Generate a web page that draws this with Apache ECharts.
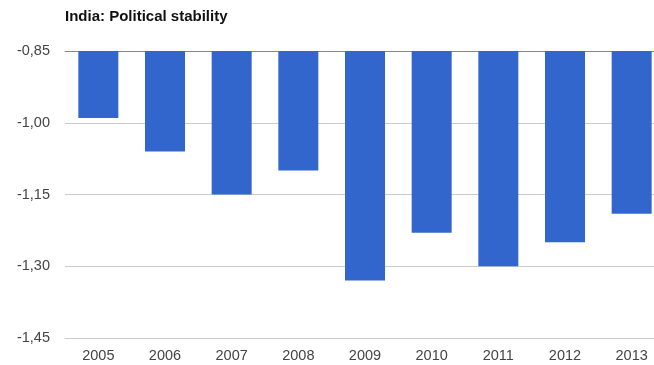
<!DOCTYPE html>
<html>
<head>
<meta charset="utf-8">
<script src="https://cdn.jsdelivr.net/npm/echarts@6/dist/echarts.min.js"></script>
<style>
  html, body { margin: 0; padding: 0; background: #fff; overflow: hidden; }
  /* the source image is cut off at the right, so the canvas is a bit wider than the window */
  #chart { width: 665px; height: 365px; }
</style>
</head>
<body>
<div id="chart"></div>
<script>
// India political stability index, by year
var years = ['2005', '2006', '2007', '2008', '2009', '2010', '2011', '2012', '2013'];
var stability = [-0.99, -1.06, -1.15, -1.10, -1.33, -1.23, -1.30, -1.25, -1.19];

var font = 'Liberation Sans, Arial, sans-serif';

var myChart = echarts.init(document.getElementById('chart'));
var option = {
    animation: false,
    title: {
        text: 'India: Political stability',
        left: 65,
        top: 9,
        padding: 0,
        textStyle: {
            fontFamily: font,
            fontSize: 15,
            fontWeight: 'bold',
            color: '#111'
        }
    },
    grid: {
        left: 65,
        right: 0,
        top: 51,
        bottom: 27
    },
    xAxis: [{
        type: 'category',
        data: years,
        axisLine: { lineStyle: { color: '#ccc' } },
        axisTick: { show: false },
        axisLabel: {
            margin: 10,
            fontFamily: font,
            fontSize: 14.5,
            color: '#444'
        }
    }, {
        type: 'category',
        position: 'top',
        data: years,
        axisLine: { lineStyle: { color: '#888', width: 1 } },
        axisTick: { show: false },
        axisLabel: { show: false }
    }],
    yAxis: {
        type: 'value',
        min: -1.45,
        max: -0.85,
        interval: 0.15,
        axisLine: { show: false },
        axisTick: { show: false },
        axisLabel: {
            margin: 15,
            fontFamily: font,
            fontSize: 14.5,
            color: '#444',
            formatter: function (v) {
                return v.toFixed(2).replace('.', ',');
            }
        },
        splitLine: {
            lineStyle: { color: '#ccc' }
        }
    },
    series: [{
        type: 'bar',
        data: stability,
        color: '#3366cc',
        barCategoryGap: '40%',
        clip: true
    }]
};
myChart.setOption(option);
</script>
</body>
</html>
